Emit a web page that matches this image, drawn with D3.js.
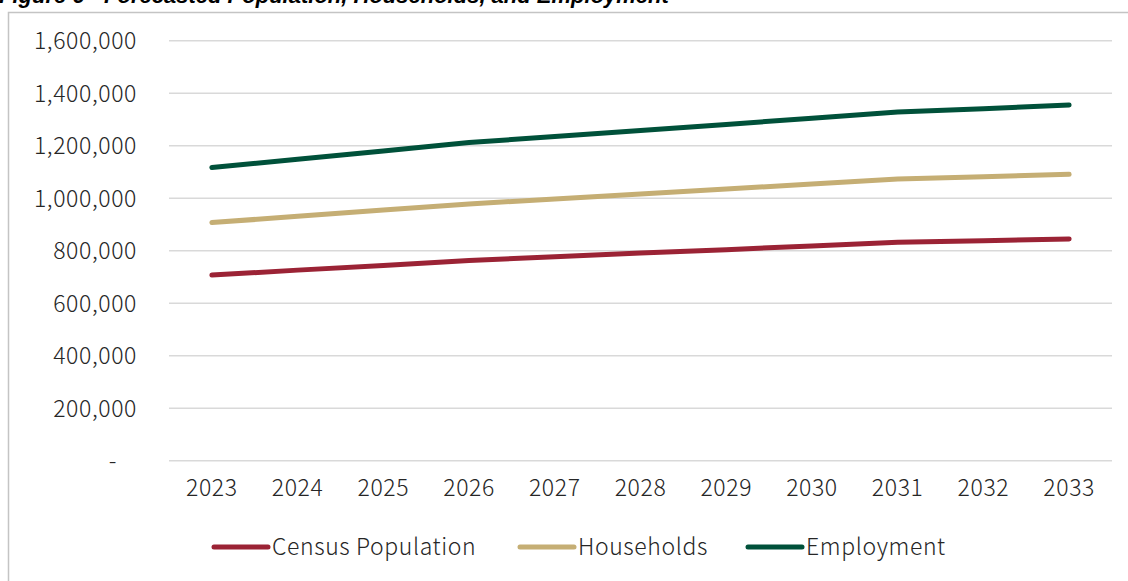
<!DOCTYPE html>
<html>
<head>
<meta charset="utf-8">
<script src="https://cdn.jsdelivr.net/npm/d3@7/dist/d3.min.js"></script>
<style>
  html, body { margin: 0; padding: 0; background: #fff; overflow: hidden; }
  svg { display: block; }
  .lbl { font-family: "Noto Sans CJK JP", "Noto Sans", sans-serif; font-weight: 300; fill: #262626; letter-spacing: 0.6px; }
</style>
</head>
<body>
<svg id="chart" width="1128" height="581"></svg>
<script>
// Forecast years
const years = ["2023","2024","2025","2026","2027","2028","2029","2030","2031","2032","2033"];

// Series values
const censusPopulation = [707000, 726000, 744000, 763000, 777000, 791000, 804000, 818000, 832000, 838000, 845000];
const households       = [907000, 931000, 955000, 978000, 997000, 1016000, 1035000, 1054000, 1073000, 1082000, 1091000];
const employment       = [1117000, 1148000, 1180000, 1212000, 1235000, 1258000, 1281000, 1305000, 1328000, 1341000, 1355000];

// Y axis ticks
const yTicks = [0, 200000, 400000, 600000, 800000, 1000000, 1200000, 1400000, 1600000];

const seriesNames  = ["Census Population", "Households", "Employment"];
const seriesColors = ["#9b2335", "#c5ae74", "#00513a"];
const seriesData   = [censusPopulation, households, employment];

const titleText = "Figure 6 - Forecasted Population, Households, and Employment";

const svg = d3.select("#chart");

// Title strip (clipped by the top of the page)
svg.append("text")
  .attr("x", -1).attr("y", 3)
  .style("font-family", "'Liberation Sans', Arial, sans-serif")
  .style("font-weight", "bold").style("font-style", "italic")
  .style("font-size", "22px").style("fill", "#000")
  .text(titleText);

// Chart frame
svg.append("rect")
  .attr("x", 8.5).attr("y", 12.5)
  .attr("width", 1140).attr("height", 600)
  .attr("fill", "#fff").attr("stroke", "#c4c4c4").attr("stroke-width", 1.5);

const plot = { left: 169, right: 1112, top: 40.7, bottom: 460.7 };

const x = d3.scaleBand().domain(years).range([plot.left, plot.right]);
const y = d3.scaleLinear().domain([0, 1600000]).range([plot.bottom, plot.top]);

// Gridlines
svg.append("g")
  .selectAll("line").data(yTicks).join("line")
  .attr("x1", plot.left).attr("x2", plot.right)
  .attr("y1", d => y(d)).attr("y2", d => y(d))
  .attr("stroke", "#d9d9d9").attr("stroke-width", 1.5);

// Y axis labels (accounting style: zero shown as a dash)
const fmt = d3.format(",");
const yAxis = d3.axisLeft(y).tickValues(yTicks).tickSize(0).tickPadding(0)
  .tickFormat(d => d === 0 ? "-" : fmt(d));
const gy = svg.append("g").attr("transform", "translate(137,0)").call(yAxis);
gy.select(".domain").remove();
gy.selectAll("text")
  .attr("class", "lbl")
  .style("font-size", "23px")
  .attr("dy", "0.35em")
  .attr("dx", d => d === 0 ? -20 : 0);

// X axis labels
const xAxis = d3.axisBottom(x).tickSize(0).tickPadding(0);
const gx = svg.append("g").attr("transform", "translate(0,479)").call(xAxis);
gx.select(".domain").remove();
gx.selectAll("text")
  .attr("class", "lbl")
  .style("font-size", "23px")
  .attr("dy", "0.75em");

// Lines
const line = d3.line()
  .x((d, i) => x(years[i]) + x.bandwidth() / 2)
  .y(d => y(d));

svg.append("g")
  .selectAll("path").data(seriesData).join("path")
  .attr("d", line)
  .attr("fill", "none")
  .attr("stroke", (d, i) => seriesColors[i])
  .attr("stroke-width", 5)
  .attr("stroke-linecap", "round")
  .attr("stroke-linejoin", "round");

// Legend
const legendY = 547;
const legendStarts = [214, 520, 748];
const legend = svg.append("g");
seriesNames.forEach((name, i) => {
  const g = legend.append("g").attr("transform", `translate(${legendStarts[i]},${legendY})`);
  g.append("line")
    .attr("x1", 0).attr("x2", 54)
    .attr("y1", 0).attr("y2", 0)
    .attr("stroke", seriesColors[i]).attr("stroke-width", 5)
    .attr("stroke-linecap", "round");
  g.append("text")
    .attr("class", "lbl")
    .attr("x", 58).attr("y", 0).attr("dy", "0.35em")
    .style("font-size", "23px")
    .text(name);
});
</script>
</body>
</html>
